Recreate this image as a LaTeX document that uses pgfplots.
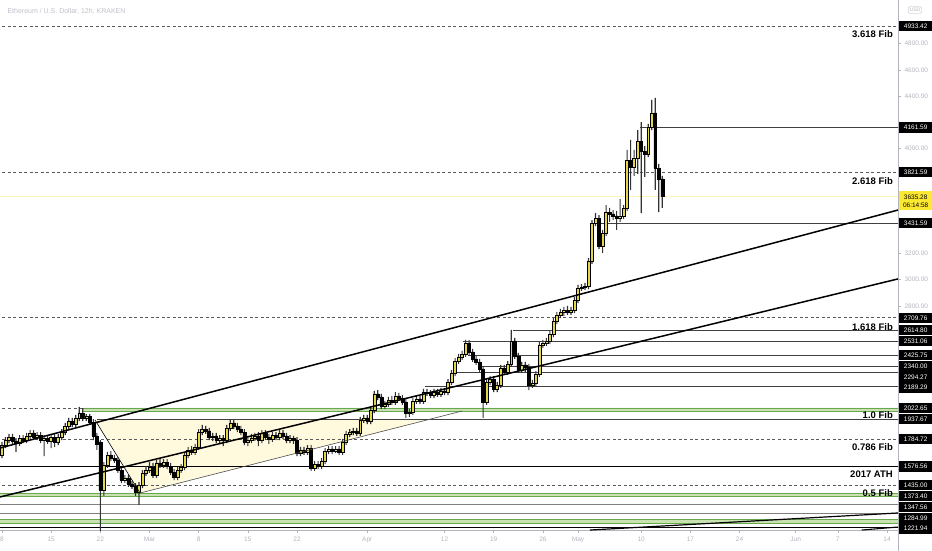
\documentclass[border=0pt]{standalone}
\usepackage{fontspec}
\setmainfont{Liberation Sans}
\usepackage{pgfplots}
\usepackage{pgfplotstable}
\pgfplotsset{compat=1.18}

\definecolor{candleup}{RGB}{228,214,76}
\definecolor{bandfill}{RGB}{200,226,178}
\definecolor{bandline}{RGB}{106,168,79}
\definecolor{tri}{RGB}{255,250,222}
\definecolor{pricey}{RGB}{250,244,185}
\definecolor{ylab}{RGB}{250,232,50}
\definecolor{axgray}{RGB}{178,181,190}
\definecolor{dashc}{RGB}{90,90,90}

% ETH/USD 12h candles, x = days since 1 Feb 2021
\pgfplotstableread{
x o h l c
7.0 1664 1763 1641 1740
7.5 1740 1801 1717 1778
8.0 1778 1824 1755 1801
8.5 1801 1824 1748 1771
9.0 1771 1793 1687 1755
9.5 1755 1816 1732 1793
10.0 1793 1816 1755 1778
10.5 1778 1832 1755 1809
11.0 1809 1854 1786 1832
11.5 1832 1854 1778 1801
12.0 1801 1839 1778 1816
12.5 1816 1839 1755 1778
13.0 1778 1816 1656 1793
13.5 1793 1816 1748 1771
14.0 1771 1824 1717 1801
14.5 1801 1824 1725 1763
15.0 1763 1824 1740 1801
15.5 1801 1862 1778 1839
16.0 1839 1908 1816 1885
16.5 1885 1946 1862 1923
17.0 1923 1946 1877 1900
17.5 1900 1969 1877 1946
18.0 1946 2030 1923 1984
18.5 1984 2022 1923 1946
19.0 1946 1976 1923 1961
19.5 1961 1976 1893 1915
20.0 1915 1938 1778 1809
20.5 1809 1832 1702 1748
21.0 1763 1778 1000 1397
21.5 1397 1610 1351 1588
22.0 1588 1687 1565 1664
22.5 1664 1694 1618 1641
23.0 1641 1664 1603 1626
23.5 1626 1649 1527 1549
24.0 1549 1572 1450 1473
24.5 1473 1511 1450 1489
25.0 1489 1511 1420 1443
25.5 1443 1466 1405 1428
26.0 1428 1450 1351 1382
26.5 1382 1458 1283 1435
27.0 1435 1549 1412 1527
27.5 1527 1580 1504 1549
28.0 1549 1610 1527 1572
28.5 1572 1603 1489 1511
29.0 1511 1626 1489 1603
29.5 1603 1641 1565 1588
30.0 1588 1633 1565 1610
30.5 1610 1633 1557 1580
31.0 1580 1603 1511 1534
31.5 1534 1557 1473 1496
32.0 1496 1572 1473 1549
32.5 1549 1595 1527 1572
33.0 1572 1687 1549 1664
33.5 1664 1725 1641 1702
34.0 1702 1732 1664 1687
34.5 1687 1748 1664 1725
35.0 1725 1862 1702 1839
35.5 1839 1893 1816 1862
36.0 1862 1885 1824 1847
36.5 1847 1870 1778 1801
37.0 1801 1832 1771 1809
37.5 1809 1832 1755 1778
38.0 1778 1816 1755 1793
38.5 1793 1816 1732 1778
39.0 1778 1893 1755 1870
39.5 1870 1931 1847 1908
40.0 1908 1931 1862 1885
40.5 1885 1908 1839 1862
41.0 1862 1885 1816 1839
41.5 1839 1862 1740 1763
42.0 1763 1801 1732 1778
42.5 1778 1824 1755 1793
43.0 1793 1832 1771 1809
43.5 1809 1839 1732 1778
44.0 1778 1854 1755 1832
44.5 1832 1854 1778 1801
45.0 1801 1824 1748 1786
45.5 1786 1839 1763 1816
46.0 1816 1839 1778 1801
46.5 1801 1854 1778 1832
47.0 1832 1854 1786 1809
47.5 1809 1832 1755 1778
48.0 1778 1816 1755 1793
48.5 1793 1809 1748 1778
49.0 1778 1801 1656 1679
49.5 1679 1725 1656 1702
50.0 1702 1725 1664 1687
50.5 1687 1740 1664 1717
51.0 1717 1740 1542 1565
51.5 1565 1618 1542 1595
52.0 1595 1618 1557 1580
52.5 1580 1641 1557 1618
53.0 1618 1717 1595 1694
53.5 1694 1732 1671 1710
54.0 1710 1732 1671 1694
54.5 1694 1732 1679 1710
55.0 1710 1732 1664 1687
55.5 1687 1786 1664 1763
56.0 1763 1847 1740 1824
56.5 1824 1862 1801 1839
57.0 1839 1870 1816 1847
57.5 1847 1870 1809 1832
58.0 1832 1954 1809 1931
58.5 1931 1969 1908 1946
59.0 1946 1969 1900 1923
59.5 1923 2030 1900 2007
60.0 2007 2152 1984 2129
60.5 2129 2159 2083 2106
61.0 2106 2129 2014 2037
61.5 2037 2075 2014 2053
62.0 2053 2106 2030 2083
62.5 2083 2114 2045 2068
63.0 2068 2144 2045 2114
63.5 2114 2137 2075 2098
64.0 2098 2121 2045 2068
64.5 2068 2091 1946 1984
65.0 1984 2014 1954 1992
65.5 1992 2098 1969 2075
66.0 2075 2114 2053 2091
66.5 2091 2114 2053 2075
67.0 2075 2167 2053 2144
67.5 2144 2167 2114 2137
68.0 2137 2159 2098 2121
68.5 2121 2167 2098 2144
69.0 2144 2167 2106 2129
69.5 2129 2175 2106 2152
70.0 2152 2175 2121 2144
70.5 2144 2243 2121 2220
71.0 2220 2312 2198 2289
71.5 2289 2403 2266 2380
72.0 2380 2434 2358 2411
72.5 2411 2457 2388 2434
73.0 2434 2541 2411 2518
73.5 2518 2541 2426 2449
74.0 2449 2472 2373 2396
74.5 2396 2419 2350 2373
75.0 2373 2396 2297 2320
75.5 2320 2342 1946 2068
76.0 2068 2243 2045 2220
76.5 2220 2266 2198 2243
77.0 2243 2266 2144 2167
77.5 2167 2220 2144 2198
78.0 2198 2350 2175 2327
78.5 2327 2350 2274 2297
79.0 2297 2380 2274 2358
79.5 2358 2617 2335 2533
80.0 2533 2556 2396 2419
80.5 2419 2442 2289 2312
81.0 2312 2373 2289 2350
81.5 2350 2373 2297 2335
82.0 2335 2358 2159 2198
82.5 2198 2236 2175 2213
83.0 2213 2304 2190 2281
83.5 2281 2525 2259 2502
84.0 2502 2541 2480 2518
84.5 2518 2556 2495 2533
85.0 2533 2609 2510 2586
85.5 2586 2708 2563 2685
86.0 2685 2754 2662 2731
86.5 2731 2777 2708 2754
87.0 2754 2792 2723 2769
87.5 2769 2800 2731 2754
88.0 2754 2792 2731 2769
88.5 2769 2868 2746 2845
89.0 2845 2960 2822 2937
89.5 2937 2967 2914 2944
90.0 2944 2975 2922 2952
90.5 2952 3166 2929 3143
91.0 3143 3455 3120 3432
91.5 3432 3508 3409 3470
92.0 3470 3493 3234 3257
92.5 3257 3379 3204 3356
93.0 3356 3569 3333 3516
93.5 3516 3547 3440 3501
94.0 3501 3531 3455 3486
94.5 3486 3524 3379 3470
95.0 3470 3615 3440 3486
95.5 3486 3569 3463 3547
96.0 3547 3989 3524 3912
96.5 3912 4065 3684 3859
97.0 3859 3989 3791 3928
97.5 3928 4141 3806 4057
98.0 4057 4202 3508 3981
98.5 3981 4019 3783 3958
99.0 3958 4187 3935 4164
99.5 4164 4370 4141 4271
100.0 4271 4385 3684 3851
100.5 3851 3882 3516 3768
101.0 3768 3791 3547 3635
}\candles

\pgfplotsset{
  chartbase/.style={width=898pt, height=530pt, scale only axis,
    at={(0pt,20pt)}, anchor=south west,
    xmin=6.715, xmax=134.56, ymin=1092.2, ymax=5132},
}
\tikzset{
  dashlvl/.style={dashc, line width=0.8pt, dash pattern=on 3pt off 2.5pt},
  thinlvl/.style={black!75, line width=0.6pt},
  band/.style={fill=bandfill, draw=bandline, line width=0.7pt},
  pbox/.style={anchor=west, xshift=1pt, fill=black, text=white, inner sep=0pt,
    minimum width=33pt, minimum height=10.5pt, font=\fontsize{6.5}{7}\selectfont},
  fib/.style={anchor=east, inner sep=0pt, font=\bfseries\fontsize{9.5}{11}\selectfont},
}

\begin{document}
\begin{tikzpicture}
\useasboundingbox (0,0) rectangle (932pt,550pt);

% frame, ticks, levels and zones
\begin{axis}[chartbase,
    axis x line*=bottom, axis y line*=right,
    axis line style={draw=axgray, line width=0.6pt},
    xtick={7,14,21,28,35,42,49,59,70,77,84,89,98,105,112,120,126,133},
    xticklabels={8,15,22,Mar,8,15,22,Apr,12,19,26,May,10,17,24,Jun,7,14},
    ytick={2800,3000,3200,4000,4400,4600,4800},
    scaled y ticks=false,
    tick align=outside, major tick length=3pt,
    tick style={draw=axgray, line width=0.5pt},
    tick label style={font=\fontsize{6.5}{7}\selectfont, color=axgray},
    yticklabel style={/pgf/number format/fixed, /pgf/number format/fixed zerofill,
      /pgf/number format/precision=2, /pgf/number format/1000 sep={},
      /pgf/number format/assume math mode=true},
  ]
  \addplot[band] coordinates {(18.5,2022.65)(140,2022.65)(140,1995)(18.5,1995)(18.5,2022.65)};
  \addplot[band] coordinates {(0,1373.4)(140,1373.4)(140,1347.56)(0,1347.56)(0,1373.4)};
  \addplot[band] coordinates {(0,1170)(140,1170)(140,1145)(0,1145)(0,1170)};
  \addplot[fill=tri, draw=none] coordinates {(20.24,1937.67)(26.65,1374)(67.93,1937.67)(20.24,1937.67)};

  \addplot[dashlvl] coordinates {(0,4933.42)(140,4933.42)};
  \addplot[dashlvl] coordinates {(0,3821.59)(140,3821.59)};
  \addplot[dashlvl] coordinates {(0,2709.76)(140,2709.76)};
  \addplot[dashlvl] coordinates {(0,2022.65)(18.5,2022.65)};
  \addplot[dashlvl] coordinates {(0,1784.72)(140,1784.72)};
  \addplot[dashlvl] coordinates {(0,1435.00)(140,1435.00)};

  \addplot[thinlvl] coordinates {(97.83,4161.59)(140,4161.59)};
  \addplot[thinlvl] coordinates {(91.1,3431.59)(140,3431.59)};
  \addplot[thinlvl] coordinates {(79.75,2614.80)(140,2614.80)};
  \addplot[thinlvl] coordinates {(72.6,2531.06)(140,2531.06)};
  \addplot[thinlvl] coordinates {(73.3,2425.75)(140,2425.75)};
  \addplot[thinlvl] coordinates {(75.3,2340.00)(140,2340.00)};
  \addplot[thinlvl] coordinates {(71.2,2294.27)(140,2294.27)};
  \addplot[thinlvl] coordinates {(67.2,2189.29)(140,2189.29)};
  \addplot[thinlvl] coordinates {(20.5,1937.67)(140,1937.67)};

  \addplot[black, line width=1.4pt] coordinates {(0,1576.56)(140,1576.56)};
  \addplot[black, line width=1.3pt] coordinates {(0,1110)(140,1110)};
  \addplot[gray, line width=0.9pt] coordinates {(0,1284.99)(140,1284.99)};
  \addplot[gray, line width=0.9pt] coordinates {(0,1221.94)(140,1221.94)};
  \addplot[pricey, line width=0.6pt] coordinates {(0,3635.28)(140,3635.28)};
\end{axis}

% wicks
\begin{axis}[chartbase, hide axis, ybar stacked, bar width=0.16]
  \addplot[draw=none, fill=none] table[x=x, y=l] \candles;
  \addplot[fill=black!80, draw=none] table[x=x, y expr={\thisrow{h}-\thisrow{l}}] \candles;
\end{axis}

% bodies
\begin{axis}[chartbase, hide axis, ybar stacked, bar width=0.42]
  \addplot[draw=none, fill=none] table[x=x, y expr={min(\thisrow{o},\thisrow{c})}] \candles;
  \addplot[fill=candleup, draw=black, line width=0.5pt]
    table[x=x, y expr={\thisrow{c}>\thisrow{o} ? \thisrow{c}-\thisrow{o} : 0}] \candles;
  \addplot[fill=black, draw=black, line width=0.5pt]
    table[x=x, y expr={\thisrow{c}>\thisrow{o} ? 0 : \thisrow{o}-\thisrow{c}}] \candles;
\end{axis}

% trend lines, labels, price scale boxes
\begin{axis}[chartbase, hide axis, clip mode=individual]
  \addplot[black, line width=1.5pt] coordinates {(6.715,1717)(134.56,3531)};
  \addplot[black, line width=1.5pt] coordinates {(6.715,1344)(134.56,3006)};
  \addplot[black, line width=1.2pt] coordinates {(90.7,1092)(134.56,1222)};
  \addplot[black, line width=1.1pt] coordinates {(129.4,1092)(134.56,1115)};
  \addplot[black, line width=0.6pt] coordinates {(20.24,1931)(26.65,1374)};
  \addplot[black!70, line width=0.6pt] coordinates {(26.65,1374)(72.49,1999)};

  \node[fib] at (axis cs:133.85,4873) {3.618 Fib};
  \node[fib] at (axis cs:133.85,3752) {2.618 Fib};
  \node[fib] at (axis cs:133.85,2642) {1.618 Fib};
  \node[fib] at (axis cs:133.85,1969) {1.0 Fib};
  \node[fib] at (axis cs:133.85,1727) {0.786 Fib};
  \node[fib] at (axis cs:133.85,1519) {2017 ATH};
  \node[fib] at (axis cs:133.85,1374) {0.5 Fib};

  \draw[axgray, line width=0.6pt] (rel axis cs:1,0) -- (rel axis cs:1,-0.04);
  \node[anchor=west, xshift=4pt, yshift=-11pt, color=axgray!85,
    font=\fontsize{7}{8}\selectfont] at (rel axis cs:0,1) {Ethereum / U.S. Dollar, 12h, KRAKEN};
  \node[draw=axgray, rounded corners=1.5pt, color=axgray, inner sep=1.5pt,
    xshift=17pt, yshift=-10pt, font=\fontsize{5}{6}\selectfont] at (rel axis cs:1,1) {USD};

  \node[pbox] at (axis cs:134.56,4933.42) {4933.42};
  \node[pbox] at (axis cs:134.56,4161.59) {4161.59};
  \node[pbox] at (axis cs:134.56,3821.59) {3821.59};
  \node[pbox, fill=ylab, text=black, minimum height=19pt, align=center,
    font=\fontsize{6.5}{8}\selectfont] at (axis cs:134.56,3600) {3635.28\\06:14:58};
  \node[pbox] at (axis cs:134.56,3431.59) {3431.59};
  \node[pbox] at (axis cs:134.56,2709.76) {2709.76};
  \node[pbox] at (axis cs:134.56,2614.80) {2614.80};
  \node[pbox] at (axis cs:134.56,2531.06) {2531.06};
  \node[pbox] at (axis cs:134.56,2425.75) {2425.75};
  \node[pbox] at (axis cs:134.56,2340.00) {2340.00};
  \node[pbox] at (axis cs:134.56,2259) {2294.27};
  \node[pbox] at (axis cs:134.56,2177) {2189.29};
  \node[pbox] at (axis cs:134.56,2022.65) {2022.65};
  \node[pbox] at (axis cs:134.56,1937.67) {1937.67};
  \node[pbox] at (axis cs:134.56,1784.72) {1784.72};
  \node[pbox] at (axis cs:134.56,1576.56) {1576.56};
  \node[pbox] at (axis cs:134.56,1435.00) {1435.00};
  \node[pbox] at (axis cs:134.56,1351) {1373.40};
  \node[pbox] at (axis cs:134.56,1268) {1347.56};
  \node[pbox] at (axis cs:134.56,1184) {1284.99};
  \node[pbox] at (axis cs:134.56,1104) {1221.94};
\end{axis}
\end{tikzpicture}
\end{document}
